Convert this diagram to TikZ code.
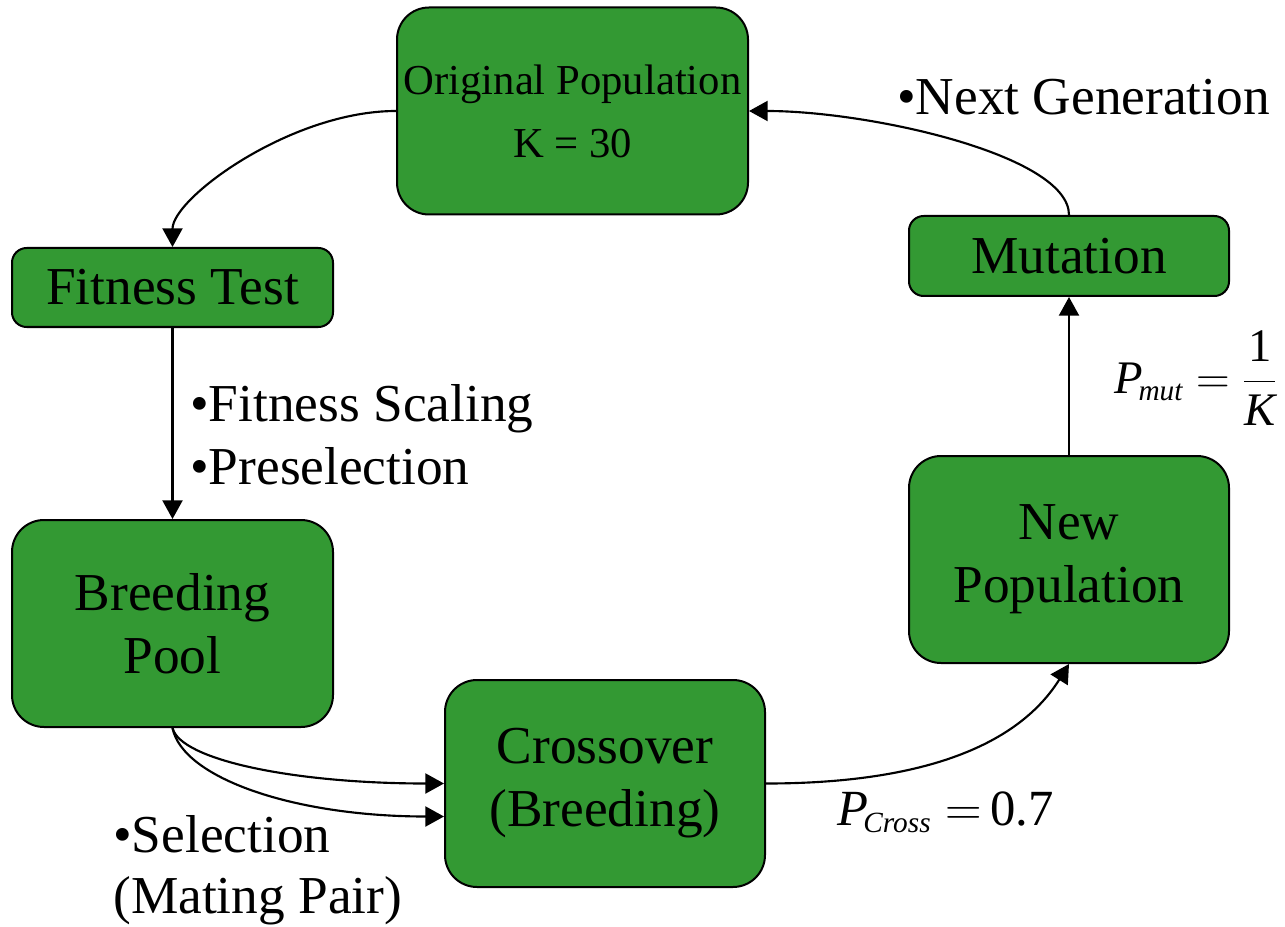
\RequirePackage{fix-cm}
\documentclass[tikz,border=0pt]{standalone}
\usepackage{amsmath}
\usepackage{fontspec}
\setmainfont{Liberation Serif}
\usetikzlibrary{arrows.meta}
\DeclareMathSizes{35}{35}{22}{16}
\DeclareMathSizes{38}{38}{22}{16}
\definecolor{boxgreen}{RGB}{51,153,51}
\tikzset{
  stage/.style={draw=black, line width=1.5pt, fill=boxgreen, rounded corners=24pt,
    inner sep=0pt, align=center, font=\fontsize{40}{47.25}\selectfont},
  smallstage/.style={stage, rounded corners=11pt},
  flow/.style={line width=1.6pt, -{Triangle[length=14pt,width=15pt]}},
  lbl/.style={anchor=base west, inner sep=0pt, font=\fontsize{40}{47.25}\selectfont},
  formula/.style={inner sep=0pt, font=\fontsize{35}{42}\selectfont},
}
\begin{document}
\begin{tikzpicture}[x=0.75pt,y=-0.75pt]
\useasboundingbox (0,0) rectangle (1285,927);

% stages of the loop
\node[stage, minimum width=351*0.75pt, minimum height=207*0.75pt,
      font=\fontsize{32}{47.25}\selectfont] (op) at (572.5,111) {Original Population\\K = 30};
\node[smallstage, minimum width=321*0.75pt, minimum height=79*0.75pt] (ft) at (172.5,287.5) {Fitness Test};
\node[stage, minimum width=321*0.75pt, minimum height=207*0.75pt] (bp) at (172.5,623.5) {Breeding\\Pool};
\node[stage, minimum width=320*0.75pt, minimum height=207*0.75pt] (co) at (605,783.5) {Crossover\\(Breeding)};
\node[stage, minimum width=320*0.75pt, minimum height=207*0.75pt] (np) at (1069,559.5) {New\\Population};
\node[smallstage, minimum width=320*0.75pt, minimum height=80*0.75pt] (mu) at (1069,256) {Mutation};

% connectors
\draw[flow] (op.west) .. controls +(-105,0) and +(0,-49) .. (ft.north);
\draw[flow] (ft.south) -- (bp.north);
\draw[flow] (bp.south) .. controls +(8,32) and +(-150,0) .. (co.west);
\draw[flow] (bp.south) .. controls +(10,50) and +(-150,0) .. ([yshift=-33*0.75pt]co.west);
\draw[flow] (co.east) .. controls +(160,0) and +(-50,80) .. (np.south);
\draw[flow] (np.north) -- (mu.south);
\draw[flow] (mu.north) .. controls +(0,-60) and +(120,0) .. (op.east);

% labels
\node[lbl] (ng) at (897,115) {•Next Generation};
\node[lbl] (fs) at (190,421) {•Fitness Scaling};
\node[lbl] (ps) at (190,484) {•Preselection};
\node[lbl] (se) at (113,852) {•Selection};
\node[lbl] (mp) at (113,913) {(Mating Pair)};
\node[formula] (pm) at (1196,378)
  {$\textit{P}_{\!\textit{mut}} = \dfrac{\text{1}}{\textit{K}}$};
\node[formula, anchor=base west, font=\fontsize{38}{44}\selectfont] (pc) at (837,825)
  {$\textit{P}_{\!\textit{Cross}} =\mkern-2mu \text{0.7}$};
\end{tikzpicture}
\end{document}
